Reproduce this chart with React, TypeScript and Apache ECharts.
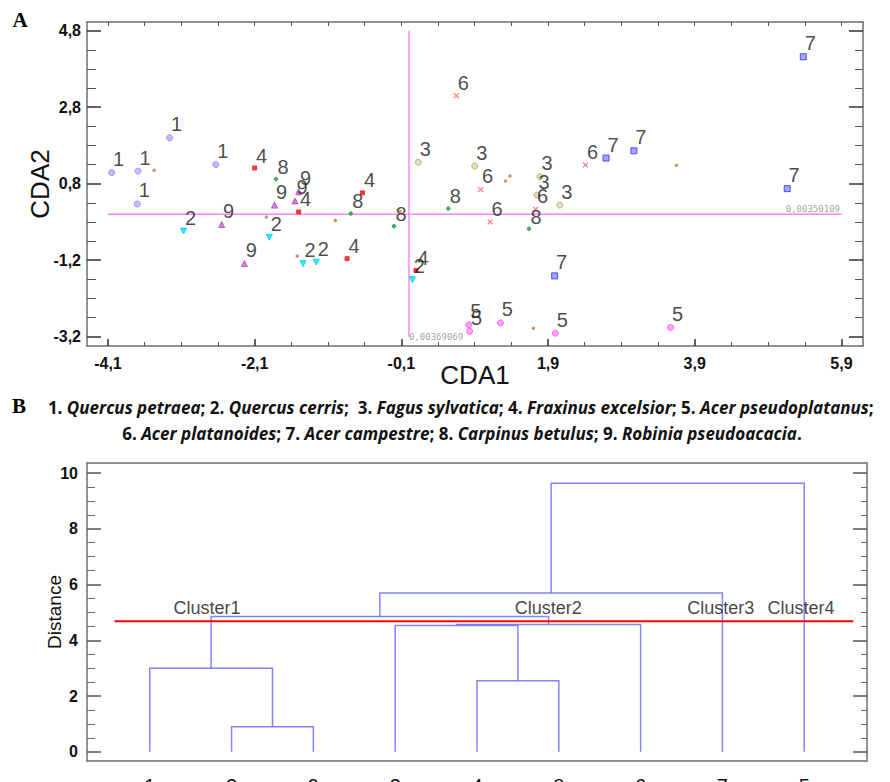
import React, { useEffect, useRef } from "react";
import * as echarts from "echarts";

// ---------- Panel A data (CDA1, CDA2) ----------
const groupNames = ["1", "2", "3", "4", "5", "6", "7", "8", "9"];
const group1 = [[-4.05, 1.09], [-3.69, 1.13], [-3.70, 0.27], [-3.26, 2.00], [-2.63, 1.30]];
const group2 = [[-3.07, -0.44], [-1.90, -0.60], [-1.44, -1.29], [-1.26, -1.25], [0.05, -1.71]];
const group3 = [[0.13, 1.36], [0.90, 1.26], [1.79, 0.98], [1.75, 0.50], [2.06, 0.24]];
const group4 = [[-2.10, 1.21], [-1.50, 0.06], [-0.63, 0.56], [-0.84, -1.16], [0.10, -1.47]];
const group5 = [[0.82, -2.89], [0.83, -3.06], [1.25, -2.84], [2.00, -3.11], [3.57, -2.96]];
const group6 = [[0.65, 3.10], [0.98, 0.65], [1.11, -0.20], [2.41, 1.29], [1.73, 0.13]];
const group7 = [[2.69, 1.47], [3.07, 1.66], [5.38, 4.12], [5.16, 0.67], [1.99, -1.61]];
const group8 = [[-1.81, 0.92], [-0.79, 0.02], [-0.20, -0.31], [0.54, 0.15], [1.64, -0.38]];
const group9 = [[-2.55, -0.27], [-1.83, 0.24], [-2.24, -1.29], [-1.55, 0.35], [-1.50, 0.59]];
const centroids = [[-3.47, 1.15], [-1.52, -1.09], [1.32, 0.87], [-1.00, -0.16], [1.70, -2.98], [1.38, 1.00], [3.65, 1.28], [-0.12, 0.08], [-1.94, -0.07]];
const hLineValue = 0.00350109;
const vLineValue = 0.00369069;
const hLineLabel = "0,00350109";
const vLineLabel = "0,00369069";

const xMajorTicks = [-4.1, -2.1, -0.1, 1.9, 3.9, 5.9];
const xMinorTicks = [-3.6, -3.1, -2.6, -1.6, -1.1, -0.6, 0.4, 0.9, 1.4, 2.4, 2.9, 3.4, 4.4, 4.9, 5.4];
const yMajorTicks = [-3.2, -1.2, 0.8, 2.8, 4.8];
const yMinorTicks = [-2.7, -2.2, -1.7, -0.7, -0.2, 0.3, 1.3, 1.8, 2.3, 3.3, 3.8, 4.3];

// ---------- Legend ----------
const species = [
  "Quercus petraea", "Quercus cerris", "Fagus sylvatica", "Fraxinus excelsior", "Acer pseudoplatanus",
  "Acer platanoides", "Acer campestre", "Carpinus betulus", "Robinia pseudoacacia",
];

// ---------- Panel B data (dendrogram) ----------
const leaves = ["1", "2", "9", "3", "4", "8", "6", "7", "5"];
// [xLeft, heightLeft, xRight, heightRight, mergeHeight]
const links = [
  [1, 0, 2, 0, 0.9],
  [0, 0, 1.5, 0.9, 3.0],
  [4, 0, 5, 0, 2.55],
  [3, 0, 4.5, 2.55, 4.53],
  [3.75, 4.53, 6, 0, 4.57],
  [0.75, 3.0, 4.875, 4.57, 4.85],
  [2.8125, 4.85, 7, 0, 5.7],
  [4.906, 5.7, 8, 0, 9.63],
];
const cutHeight = 4.68;
const cutExtent = [-0.43, 8.6];
const clusterLabels = [
  { name: "Cluster1", value: [0.7, 5.17] },
  { name: "Cluster2", value: [4.87, 5.17] },
  { name: "Cluster3", value: [6.98, 5.17] },
  { name: "Cluster4", value: [7.96, 5.17] },
];
const dMajorTicks = [0, 2, 4, 6, 8, 10];
const dMinorTicks = [0.5, 1, 1.5, 2.5, 3, 3.5, 4.5, 5, 5.5, 6.5, 7, 7.5, 8.5, 9, 9.5];

const SANS = "'Liberation Sans', Arial, sans-serif";
const LEGEND_FONT = "'Open Sans', sans-serif";
const FRAME = "#6e6e6e";

const fmtComma = (v: number) => v.toFixed(1).replace(".", ",");

const markerStyles = [
  { symbol: "circle", size: 6, color: "#b4acf6", border: "#8d84ec" },
  { symbol: "triangle", size: 6, color: "#00e2f6", border: "#00c8e8", rotate: 180 },
  { symbol: "circle", size: 6, color: "#dcd8b0", border: "#a8a060" },
  { symbol: "rect", size: 4, color: "#ff1010", border: "#ff1010" },
  { symbol: "circle", size: 6, color: "#ff90ff", border: "#ff40ff" },
  { symbol: "path://M0,1L1,0L5,4L9,0L10,1L6,5L10,9L9,10L5,6L1,10L0,9L4,5Z", size: 5, color: "#ff7c7c", border: "#ff7c7c" },
  { symbol: "rect", size: 6, color: "#9090ff", border: "#2a2aff" },
  { symbol: "circle", size: 3.5, color: "#10a040", border: "#10a040" },
  { symbol: "triangle", size: 6, color: "#c466cc", border: "#b040c0" },
];
const groupData = [group1, group2, group3, group4, group5, group6, group7, group8, group9];

function legendLine(from: number, to: number) {
  let s = "";
  for (let i = from; i < to; i++) {
    const sep = i === species.length - 1 ? "." : i === 1 ? ";  " : "; ";
    s += `{n|${i + 1}. }{i|${species[i]}}{n|${sep}}`;
  }
  return s;
}

export default function App() {
  const ref = useRef<HTMLDivElement>(null);
  useEffect(() => {
    document.body.style.margin = "0";
    const chart = echarts.init(ref.current!, undefined, { renderer: "svg" });

    const ax = (extra: any) => ({
      type: "value",
      splitLine: { show: false },
      nameMoveOverlap: false,
      ...extra,
      axisLine: { onZero: false, ...(extra.axisLine || {}) },
    });

    const scatterSeries = groupData.map((d, gi) => ({
      type: "scatter",
      name: groupNames[gi],
      xAxisIndex: 0,
      yAxisIndex: 0,
      data: d,
      symbol: markerStyles[gi].symbol,
      symbolSize: markerStyles[gi].size,
      symbolRotate: (markerStyles[gi] as any).rotate || 0,
      itemStyle: { color: markerStyles[gi].color, borderColor: markerStyles[gi].border, borderWidth: 1 },
      label: {
        show: true,
        formatter: groupNames[gi],
        position: "top",
        distance: 0,
        offset: [7, 0],
        fontSize: 20,
        fontFamily: SANS,
        color: "#1a1a1a",
      },
      z: 3,
    }));

    const richStyles = {
      n: { fontFamily: LEGEND_FONT, fontWeight: "bold", fontSize: 17, fill: "#111" },
      i: { fontFamily: LEGEND_FONT, fontWeight: "bold", fontStyle: "italic", fontSize: 17, fill: "#111" },
    };

    const option: any = {
      animation: false,
      backgroundColor: "#ffffff",
      grid: [
        { left: 87, top: 22, width: 776, height: 324, outerBoundsMode: "none", containLabel: false },
        { left: 87, top: 463, width: 780, height: 298, outerBoundsMode: "none", containLabel: false },
      ],
      xAxis: [
        // 0: bottom major
        ax({
          gridIndex: 0, position: "bottom", min: -4.386, max: 6.194,
          axisLine: { show: true, lineStyle: { color: FRAME, width: 1.5 } },
          axisTick: { show: true, inside: true, length: 7, customValues: xMajorTicks, lineStyle: { color: "#333", width: 1.5 } },
          axisLabel: { show: true, customValues: xMajorTicks, formatter: fmtComma, fontFamily: SANS, fontWeight: "bold", fontSize: 16, color: "#111", margin: 9 },
          name: "CDA1", nameLocation: "middle", nameGap: 16,
          nameTextStyle: { fontFamily: SANS, fontSize: 26, color: "#111" },
        }),
        // 1: bottom minor
        ax({
          gridIndex: 0, position: "bottom", min: -4.386, max: 6.194,
          axisLine: { show: false },
          axisTick: { show: true, inside: true, length: 4, customValues: xMinorTicks, lineStyle: { color: "#555", width: 1 } },
          axisLabel: { show: false },
        }),
        // 2: top frame
        ax({
          gridIndex: 0, position: "top", min: -4.386, max: 6.194,
          axisLine: { show: true, lineStyle: { color: FRAME, width: 1.5 } },
          axisTick: { show: true, inside: true, length: 4, customValues: [...xMajorTicks, ...xMinorTicks], lineStyle: { color: "#555", width: 1 } },
          axisLabel: { show: false },
        }),
        // 3: dendrogram bottom
        ax({
          gridIndex: 1, position: "bottom", min: -0.767, max: 8.767,
          axisLine: { show: true, lineStyle: { color: FRAME, width: 1.5 } },
          axisTick: { show: false },
          axisLabel: {
            show: true, customValues: leaves.map((_, i) => i),
            formatter: (v: number) => leaves[Math.round(v)] ?? "",
            fontFamily: SANS, fontSize: 20, color: "#111", margin: 15,
          },
        }),
        // 4: dendrogram top frame
        ax({
          gridIndex: 1, position: "top", min: -0.767, max: 8.767,
          axisLine: { show: true, lineStyle: { color: FRAME, width: 1.5 } },
          axisTick: { show: false },
          axisLabel: { show: false },
        }),
      ],
      yAxis: [
        // 0: left major
        ax({
          gridIndex: 0, position: "left", min: -3.444, max: 5.028,
          axisLine: { show: true, lineStyle: { color: FRAME, width: 1.5 } },
          axisTick: { show: true, inside: true, length: 14, customValues: yMajorTicks, lineStyle: { color: "#333", width: 1.5 } },
          axisLabel: { show: true, customValues: yMajorTicks, formatter: fmtComma, fontFamily: SANS, fontWeight: "bold", fontSize: 16, color: "#111", margin: 6 },
          name: "CDA2", nameLocation: "middle", nameGap: 34,
          nameTextStyle: { fontFamily: SANS, fontSize: 26, color: "#111" },
        }),
        // 1: left minor
        ax({
          gridIndex: 0, position: "left", min: -3.444, max: 5.028,
          axisLine: { show: false },
          axisTick: { show: true, inside: true, length: 9, customValues: yMinorTicks, lineStyle: { color: "#555", width: 1 } },
          axisLabel: { show: false },
        }),
        // 2: right major
        ax({
          gridIndex: 0, position: "right", min: -3.444, max: 5.028,
          axisLine: { show: true, lineStyle: { color: FRAME, width: 1.5 } },
          axisTick: { show: true, inside: true, length: 14, customValues: yMajorTicks, lineStyle: { color: "#333", width: 1.5 } },
          axisLabel: { show: false },
        }),
        // 3: right minor
        ax({
          gridIndex: 0, position: "right", min: -3.444, max: 5.028,
          axisLine: { show: false },
          axisTick: { show: true, inside: true, length: 8, customValues: yMinorTicks, lineStyle: { color: "#555", width: 1 } },
          axisLabel: { show: false },
        }),
        // 4: dendrogram left major
        ax({
          gridIndex: 1, position: "left", min: -0.33, max: 10.36,
          axisLine: { show: true, lineStyle: { color: FRAME, width: 1.5 } },
          axisTick: { show: true, inside: true, length: 14, customValues: dMajorTicks, lineStyle: { color: "#555", width: 1.5 } },
          axisLabel: { show: true, customValues: dMajorTicks, fontFamily: SANS, fontWeight: "bold", fontSize: 16, color: "#111", margin: 9 },
          name: "Distance", nameLocation: "middle", nameGap: 23,
          nameTextStyle: { fontFamily: SANS, fontSize: 19, color: "#111" },
        }),
        // 5: dendrogram left minor
        ax({
          gridIndex: 1, position: "left", min: -0.33, max: 10.36,
          axisLine: { show: false },
          axisTick: { show: true, inside: true, length: 8, customValues: dMinorTicks, lineStyle: { color: "#666", width: 1 } },
          axisLabel: { show: false },
        }),
        // 6: dendrogram right major
        ax({
          gridIndex: 1, position: "right", min: -0.33, max: 10.36,
          axisLine: { show: true, lineStyle: { color: FRAME, width: 1.5 } },
          axisTick: { show: true, inside: true, length: 14, customValues: dMajorTicks, lineStyle: { color: "#555", width: 1.5 } },
          axisLabel: { show: false },
        }),
        // 7: dendrogram right minor
        ax({
          gridIndex: 1, position: "right", min: -0.33, max: 10.36,
          axisLine: { show: false },
          axisTick: { show: true, inside: true, length: 6, customValues: dMinorTicks, lineStyle: { color: "#666", width: 1 } },
          axisLabel: { show: false },
        }),
      ],
      graphic: [
        { type: "text", x: 20, y: 20, style: { text: "A", fontFamily: "'Liberation Serif', serif", fontWeight: "bold", fontSize: 21, fill: "#000", align: "center", verticalAlign: "middle" } },
        { type: "text", x: 19, y: 406, style: { text: "B", fontFamily: "'Liberation Serif', serif", fontWeight: "bold", fontSize: 21, fill: "#000", align: "center", verticalAlign: "middle" } },
        {
          type: "text", x: 463, y: 407,
          style: { text: legendLine(0, 5), align: "center", verticalAlign: "middle", rich: richStyles },
        },
        {
          type: "text", x: 462, y: 433,
          style: { text: legendLine(5, 9), align: "center", verticalAlign: "middle", rich: richStyles },
        },
      ],
      series: [
        {
          type: "line", xAxisIndex: 0, yAxisIndex: 0, symbol: "none",
          data: [[xMajorTicks[0], hLineValue], [xMajorTicks[xMajorTicks.length - 1], hLineValue]],
          lineStyle: { color: "#ff88ff", width: 1.5 }, z: 1,
        },
        {
          type: "line", xAxisIndex: 0, yAxisIndex: 0, symbol: "none",
          data: [[vLineValue, yMajorTicks[0]], [vLineValue, yMajorTicks[yMajorTicks.length - 1]]],
          lineStyle: { color: "#ff88ff", width: 1.5 }, z: 1,
        },
        {
          type: "scatter", xAxisIndex: 0, yAxisIndex: 0, symbolSize: 0, silent: true,
          data: [
            { value: [5.88, hLineValue], label: { position: "left", offset: [0, -5], formatter: hLineLabel } },
            { value: [vLineValue, yMajorTicks[0]], label: { position: "right", offset: [0, 0], formatter: vLineLabel } },
          ],
          label: { show: true, distance: 0, fontSize: 9, fontFamily: "'DejaVu Sans Mono', monospace", color: "#8a8a8a" },
        },
        ...scatterSeries,
        {
          type: "scatter", xAxisIndex: 0, yAxisIndex: 0, data: centroids,
          symbol: "circle", symbolSize: 3.5, itemStyle: { color: "#c87838" }, z: 4,
        },
        // dendrogram
        {
          type: "lines", coordinateSystem: "cartesian2d", xAxisIndex: 3, yAxisIndex: 4, polyline: true,
          data: links.map((l) => ({ coords: [[l[0], l[1]], [l[0], l[4]], [l[2], l[4]], [l[2], l[3]]] })),
          lineStyle: { color: "#5050ff", width: 1.5, opacity: 0.7 },
          z: 2,
        },
        {
          type: "line", xAxisIndex: 3, yAxisIndex: 4, symbol: "none",
          data: [[cutExtent[0], cutHeight], [cutExtent[1], cutHeight]],
          lineStyle: { color: "#ff0000", width: 2 }, z: 3,
        },
        {
          type: "scatter", xAxisIndex: 3, yAxisIndex: 4, symbolSize: 0, silent: true,
          data: clusterLabels,
          label: { show: true, position: "inside", formatter: (p: any) => p.name, fontFamily: SANS, fontSize: 18, color: "#111" },
          z: 5,
        },
      ],
    };
    chart.setOption(option);
    return () => chart.dispose();
  }, []);
  return <div ref={ref} style={{ width: 890, height: 782, position: "absolute", left: 0, top: 0 }} />;
}
